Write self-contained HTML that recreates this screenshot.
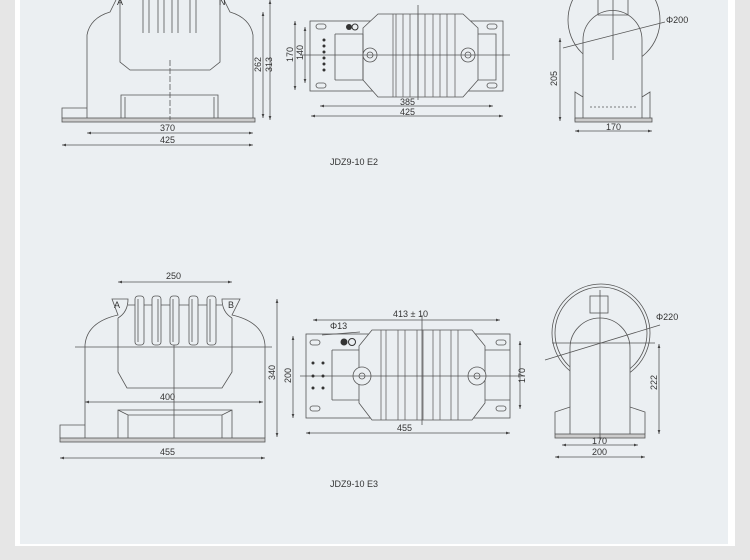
<!DOCTYPE html>
<html><head><meta charset="utf-8"><style>
html,body{margin:0;padding:0;background:#e6e6e6;}
svg{display:block}
text{font-family:"Liberation Sans",sans-serif;fill:#333;font-size:9px}
</style></head><body>
<svg width="750" height="560" viewBox="0 0 750 560" xmlns="http://www.w3.org/2000/svg">
<defs><marker id="a" viewBox="0 0 6 6" refX="6" refY="3" markerWidth="5" markerHeight="5" orient="auto-start-reverse"><path d="M0,1L6,3L0,5z" fill="#444"/></marker></defs>
<rect x="15" y="0" width="720" height="546" fill="#fff"/>
<rect x="20" y="0" width="708" height="544" fill="#ebeff2"/>
<g fill="none" stroke="#555" stroke-width="0.8">
<!-- TOP LEFT E2 -->
<path d="M87,118 L87,35 Q90,18 110,12 L116,0"/>
<path d="M253,118 L253,35 Q250,18 230,12 L224,0"/>
<path d="M120,0 L120,62 L130,70 L210,70 L220,62 L220,0"/>
<path d="M143,0V33M149,0V33M158,0V33M164,0V33M172,0V33M178,0V33M190,0V33M196,0V33"/>
<path d="M121,118V95H218V118M125,97V118M214,97V118"/>
<rect x="62" y="118" width="193" height="4" fill="#ccc"/>
<path d="M62,118V108H87"/>
<path d="M170,60V120" stroke-dasharray="6,2"/>
<g marker-start="url(#a)" marker-end="url(#a)"><line x1="87" y1="133" x2="253" y2="133"/><line x1="62" y1="145" x2="253" y2="145"/>
<line x1="263" y1="12" x2="263" y2="118"/><line x1="270" y1="0" x2="270" y2="120"/>
<line x1="295" y1="21" x2="295" y2="90"/><line x1="305" y1="27" x2="305" y2="83"/>
<line x1="320" y1="106" x2="493" y2="106"/><line x1="311" y1="116" x2="503" y2="116"/>
<line x1="560" y1="38" x2="560" y2="121"/><line x1="575" y1="131" x2="652" y2="131"/></g>
<!-- TOP MIDDLE -->
<rect x="310" y="21" width="193" height="70" fill="#ebeff2"/>
<path d="M378,14H463L478,28V80L463,97H378L363,80V28Z" fill="#ebeff2"/>
<path d="M335,34H363M335,80H363V34M335,34V80M478,34H496V80H478"/>
<path d="M393,14V97M396,14V97M403,14V97M410,14V97M418,14V97M425,14V97M433,14V97M440,14V97M447,14V97M455,14V97" stroke="#666"/>
<circle cx="370" cy="55" r="7" fill="#ebeff2"/><circle cx="370" cy="55" r="3"/>
<circle cx="468" cy="55" r="7" fill="#ebeff2"/><circle cx="468" cy="55" r="3"/>
<rect x="316" y="24" width="10" height="5" rx="2.5"/><rect x="487" y="24" width="10" height="5" rx="2.5"/>
<rect x="316" y="83" width="10" height="5" rx="2.5"/><rect x="487" y="83" width="10" height="5" rx="2.5"/>
<line x1="300" y1="55" x2="510" y2="55"/><line x1="418" y1="5" x2="418" y2="100"/>
<!-- TOP RIGHT -->
<circle cx="614" cy="20" r="46"/>
<path d="M583,121V97L575,92V121M642,121V97L650,92V121M583,97V40A29,29 0 0 1 642,40V97" fill="#ebeff2"/>
<path d="M598,0V15H628V0"/>
<rect x="575" y="118" width="77" height="4" fill="#ccc"/>
<line x1="563" y1="48" x2="665" y2="22"/><line x1="613" y1="0" x2="613" y2="60"/>
<path d="M590,107H636" stroke-dasharray="2,2"/>
<!-- BOTTOM LEFT E3 -->
<path d="M85,438V345Q87,322 118,315L112,299H128Q128,312 118,318"/>
<path d="M265,438V345Q263,322 232,315L240,299H222Q222,312 232,318"/>
<path d="M118,318V372L127,388H222L232,372V318"/>
<path d="M128,305H222"/>
<g fill="#ebeff2"><rect x="135" y="296" width="9" height="49" rx="3"/><rect x="152" y="296" width="9" height="49" rx="3"/><rect x="170" y="296" width="9" height="49" rx="3"/><rect x="189" y="296" width="9" height="49" rx="3"/><rect x="207" y="296" width="9" height="49" rx="3"/></g>
<path d="M138,299V342M158,299V342M173,299V342M192,299V342M210,299V342"/>
<line x1="75" y1="347" x2="272" y2="347"/><line x1="174" y1="345" x2="174" y2="438"/>
<path d="M118,438V410H232V438M128,415V438M222,415V438M118,410L128,415H222L232,410"/>
<rect x="60" y="438" width="205" height="4" fill="#ccc"/>
<path d="M60,438V425H85"/>
<g marker-start="url(#a)" marker-end="url(#a)"><line x1="118" y1="282" x2="232" y2="282"/><line x1="85" y1="402" x2="263" y2="402"/>
<line x1="60" y1="458" x2="265" y2="458"/><line x1="277" y1="299" x2="277" y2="437"/>
<line x1="293" y1="336" x2="293" y2="418"/><line x1="520" y1="341" x2="520" y2="409"/>
<line x1="313" y1="320" x2="500" y2="320"/><line x1="306" y1="433" x2="510" y2="433"/>
<line x1="659" y1="344" x2="659" y2="434"/><line x1="562" y1="445" x2="638" y2="445"/><line x1="555" y1="457" x2="645" y2="457"/></g>
<!-- BOTTOM MIDDLE -->
<rect x="306" y="334" width="204" height="84" fill="#ebeff2"/>
<path d="M372,330H472L485,346V403L472,420H372L359,403V346Z" fill="#ebeff2"/>
<path d="M332,350H359M332,400H359M332,350V400M485,350H510M485,400H510" />
<path d="M381,330V420M386,330V420M398,330V420M405,330V420M417,330V420M423,330V420M433,330V420M440,330V420M451,330V420M458,330V420" stroke="#666"/>
<circle cx="362" cy="376" r="9" fill="#ebeff2"/><circle cx="362" cy="376" r="3"/>
<circle cx="477" cy="376" r="9" fill="#ebeff2"/><circle cx="477" cy="376" r="3"/>
<rect x="310" y="340" width="10" height="5" rx="2.5"/><rect x="496" y="340" width="10" height="5" rx="2.5"/>
<rect x="310" y="406" width="10" height="5" rx="2.5"/><rect x="496" y="406" width="10" height="5" rx="2.5"/>
<line x1="300" y1="376" x2="525" y2="376"/><line x1="422" y1="315" x2="422" y2="425"/>
<line x1="322" y1="335" x2="360" y2="332"/>
<!-- BOTTOM RIGHT -->
<circle cx="601" cy="333" r="49"/>
<circle cx="601" cy="333" r="46"/>
<path d="M570,434V407L555,412V434M630,434V407L645,412V434M570,407V348A30,30 0 0 1 630,348V407" fill="#ebeff2"/>
<rect x="590" y="296" width="18" height="17" fill="#ebeff2"/>
<rect x="555" y="434" width="90" height="4" fill="#ccc"/>
<line x1="545" y1="360" x2="660" y2="325"/><line x1="600" y1="290" x2="600" y2="440"/>
<line x1="552" y1="343" x2="655" y2="343"/>
</g>
<g fill="#333">
<circle cx="349" cy="27" r="3"/><circle cx="355" cy="27" r="3" fill="none" stroke="#333"/>
<circle cx="324" cy="40" r="1.5"/><circle cx="324" cy="46" r="1.5"/><circle cx="324" cy="52" r="1.5"/><circle cx="324" cy="58" r="1.5"/><circle cx="324" cy="64" r="1.5"/><circle cx="324" cy="70" r="1.5"/>
<circle cx="344" cy="342" r="3.5"/><circle cx="352" cy="342" r="3.5" fill="none" stroke="#333"/>
<circle cx="313" cy="363" r="1.5"/><circle cx="323" cy="363" r="1.5"/><circle cx="313" cy="376" r="1.5"/><circle cx="323" cy="376" r="1.5"/><circle cx="313" cy="388" r="1.5"/><circle cx="323" cy="388" r="1.5"/>
</g>
<text x="117" y="5" font-size="7">A</text><text x="219" y="5" font-size="7">N</text>
<text x="160" y="131">370</text><text x="160" y="143">425</text>
<text x="261" y="72" transform="rotate(-90 261 72)">262</text>
<text x="272" y="72" transform="rotate(-90 272 72)">313</text>
<text x="293" y="62" transform="rotate(-90 293 62)">170</text>
<text x="303" y="60" transform="rotate(-90 303 60)">140</text>
<text x="400" y="105">385</text><text x="400" y="115">425</text>
<text x="557" y="86" transform="rotate(-90 557 86)">205</text>
<text x="606" y="130">170</text><text x="666" y="23">Φ200</text>
<text x="330" y="165" font-size="10">JDZ9-10 E2</text>
<text x="166" y="279">250</text>
<text x="114" y="308" font-size="7">A</text><text x="228" y="308" font-size="7">B</text>
<text x="160" y="400">400</text><text x="160" y="455">455</text>
<text x="275" y="380" transform="rotate(-90 275 380)">340</text>
<text x="291" y="383" transform="rotate(-90 291 383)">200</text>
<text x="525" y="383" transform="rotate(-90 525 383)">170</text>
<text x="393" y="317">413 ± 10</text><text x="330" y="329">Φ13</text>
<text x="397" y="431">455</text>
<text x="656" y="320">Φ220</text>
<text x="657" y="390" transform="rotate(-90 657 390)">222</text>
<text x="592" y="444">170</text><text x="592" y="455">200</text>
<text x="330" y="487" font-size="10">JDZ9-10 E3</text>
</svg>
</body></html>
